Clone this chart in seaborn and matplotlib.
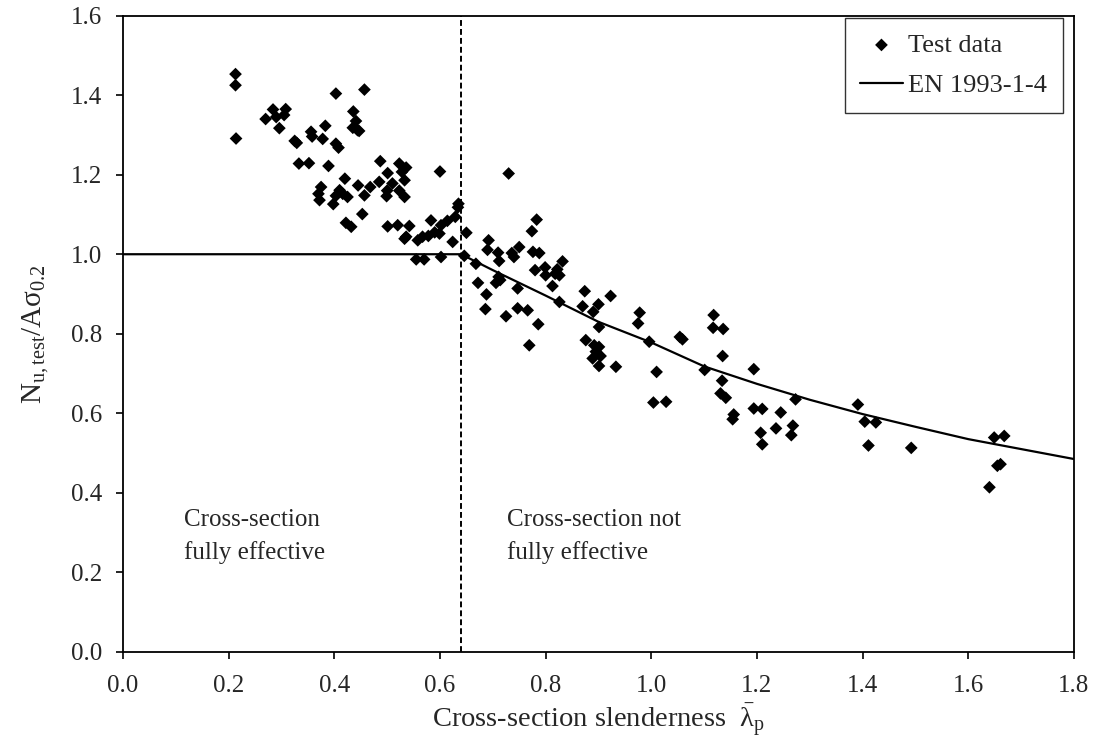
import numpy as np
import pandas as pd
import matplotlib
matplotlib.use("Agg")
import matplotlib.pyplot as plt
import seaborn as sns

# ── Test data ───────────────────────────────────────────────────────────────
test_lambda = [
    0.213, 0.213, 0.214, 0.270, 0.284, 0.290, 0.308, 0.296, 0.305, 0.403,
    0.457, 0.383, 0.356, 0.358, 0.378, 0.329, 0.325, 0.403, 0.408, 0.436,
    0.441, 0.444, 0.435, 0.447, 0.333, 0.352, 0.389, 0.487, 0.523, 0.536,
    0.528, 0.533, 0.501, 0.485, 0.510, 0.500, 0.523, 0.533, 0.420, 0.445,
    0.468, 0.457, 0.375, 0.370, 0.372, 0.410, 0.403, 0.416, 0.425, 0.398,
    0.453, 0.422, 0.432, 0.501, 0.520, 0.542, 0.536, 0.558, 0.578, 0.583,
    0.590, 0.600, 0.730, 0.635, 0.634, 0.499, 0.602, 0.614, 0.629, 0.599,
    0.567, 0.533, 0.624, 0.650, 0.555, 0.570, 0.602, 0.646, 0.668, 0.692,
    0.690, 0.710, 0.712, 0.736, 0.750, 0.740, 0.783, 0.774, 0.776, 0.788,
    0.832, 0.780, 0.799, 0.800, 0.822, 0.818, 0.826, 0.813, 0.711, 0.706,
    0.714, 0.672, 0.688, 0.686, 0.747, 0.747, 0.766, 0.725, 0.786, 0.769,
    0.826, 0.874, 0.923, 0.870, 0.890, 0.900, 0.901, 0.876, 0.892, 0.901,
    0.889, 0.904, 0.901, 0.895, 0.933, 0.978, 0.975, 0.996, 1.054, 1.059,
    1.010, 1.004, 1.028, 1.118, 1.117, 1.136, 1.135, 1.101, 1.194, 1.134,
    1.131, 1.141, 1.156, 1.154, 1.273, 1.194, 1.210, 1.245, 1.207, 1.236,
    1.210, 1.268, 1.265, 1.391, 1.404, 1.425, 1.411, 1.492, 1.649, 1.668,
    1.661, 1.655, 1.640,
]
test_ratio = [
    1.453, 1.425, 1.291, 1.340, 1.364, 1.345, 1.365, 1.317, 1.350, 1.404,
    1.414, 1.323, 1.308, 1.296, 1.290, 1.280, 1.285, 1.278, 1.268, 1.359,
    1.335, 1.312, 1.318, 1.310, 1.228, 1.229, 1.222, 1.234, 1.228, 1.218,
    1.207, 1.186, 1.204, 1.182, 1.178, 1.160, 1.160, 1.144, 1.190, 1.173,
    1.169, 1.148, 1.169, 1.152, 1.136, 1.161, 1.147, 1.152, 1.144, 1.126,
    1.101, 1.079, 1.069, 1.070, 1.073, 1.071, 1.044, 1.035, 1.046, 1.085,
    1.055, 1.208, 1.203, 1.127, 1.118, 1.146, 1.073, 1.084, 1.094, 1.052,
    1.044, 1.039, 1.031, 1.054, 0.987, 0.987, 0.993, 0.996, 0.976, 1.035,
    1.011, 1.004, 0.983, 1.003, 1.018, 0.993, 1.087, 1.058, 1.006, 1.003,
    0.982, 0.960, 0.967, 0.947, 0.962, 0.951, 0.947, 0.920, 0.943, 0.928,
    0.935, 0.928, 0.899, 0.862, 0.914, 0.864, 0.859, 0.844, 0.824, 0.771,
    0.880, 0.907, 0.895, 0.869, 0.855, 0.874, 0.817, 0.784, 0.771, 0.767,
    0.738, 0.744, 0.719, 0.755, 0.717, 0.853, 0.826, 0.780, 0.792, 0.786,
    0.704, 0.627, 0.629, 0.847, 0.815, 0.812, 0.744, 0.709, 0.711, 0.682,
    0.650, 0.639, 0.597, 0.585, 0.635, 0.612, 0.611, 0.602, 0.551, 0.562,
    0.522, 0.569, 0.545, 0.622, 0.579, 0.577, 0.519, 0.513, 0.539, 0.543,
    0.472, 0.468, 0.414,
]

# ── EN 1993-1-4 design curve ────────────────────────────────────────────────
en_lambda = [0.0, 0.64, 0.70, 0.80, 0.90, 1.00, 1.10, 1.20, 1.30, 1.40,
             1.50, 1.60, 1.70, 1.80]
en_ratio = [1.0, 1.0, 0.960, 0.896, 0.830, 0.778, 0.718, 0.674, 0.634, 0.598,
            0.566, 0.535, 0.510, 0.485]

lambda_limit = 0.64

x_ticks = [0.0, 0.2, 0.4, 0.6, 0.8, 1.0, 1.2, 1.4, 1.6, 1.8]
y_ticks = [0.0, 0.2, 0.4, 0.6, 0.8, 1.0, 1.2, 1.4, 1.6]

sns.set_theme(style="white")
plt.rcParams["font.family"] = ["Liberation Serif", "DejaVu Serif"]
plt.rcParams["mathtext.fontset"] = "custom"
plt.rcParams["mathtext.rm"] = "Liberation Serif"
plt.rcParams["mathtext.it"] = "Liberation Serif:italic"
plt.rcParams["font.size"] = 18

tests = pd.DataFrame({"lam": test_lambda, "ratio": test_ratio})
curve = pd.DataFrame({"lam": en_lambda, "ratio": en_ratio})

fig = plt.figure(figsize=(10.97, 7.45), dpi=100)
ax = fig.add_axes([0.1121, 0.125, 0.8669, 0.854])

sns.scatterplot(data=tests, x="lam", y="ratio", marker="D", s=42,
                color="black", edgecolor="none", label="Test data", ax=ax,
                zorder=3)
sns.lineplot(data=curve, x="lam", y="ratio", sort=False, color="black",
             linewidth=1.6, label="EN 1993-1-4", ax=ax, zorder=2)
ax.axvline(lambda_limit, color="black", linewidth=1.4,
           linestyle=(0, (3, 1.6)), zorder=1)

ax.text(0.115, 0.36, "Cross-section\nfully effective", fontsize=18,
        va="top", ha="left", linespacing=1.6)
ax.text(0.727, 0.36, "Cross-section not\nfully effective", fontsize=18,
        va="top", ha="left", linespacing=1.6)

ax.set_xlim(0, 1.8)
ax.set_ylim(0, 1.6)
ax.set_xticks(x_ticks)
ax.set_yticks(y_ticks)
ax.set_xticklabels([f"{v:.1f}" for v in x_ticks], fontsize=18)
ax.set_yticklabels([f"{v:.1f}" for v in y_ticks], fontsize=18)
ax.tick_params(axis="both", direction="out", length=5, width=1.2,
               color="black", bottom=True, left=True)
ax.tick_params(axis="x", pad=12)
ax.tick_params(axis="y", pad=10)

for side in ["left", "right", "top", "bottom"]:
    ax.spines[side].set_color("black")
    ax.spines[side].set_linewidth(1.3)

ax.set_xlabel(r"Cross-section slenderness  $\bar{\mathrm{λ}}_\mathrm{p}$",
              fontsize=20.5, labelpad=3)
ax.set_ylabel(r"N$_\mathrm{u,test}$/Aσ$_\mathrm{0.2}$", fontsize=21,
              labelpad=14)

leg = ax.legend(loc="upper right", fontsize=19, frameon=True, fancybox=False,
                edgecolor="black", borderpad=0.6, handlelength=1.6,
                handletextpad=0.2, labelspacing=0.65, borderaxespad=0,
                bbox_to_anchor=(0.988, 0.997))
leg.get_frame().set_linewidth(1.0)

fig.savefig("out.png", dpi=100)
